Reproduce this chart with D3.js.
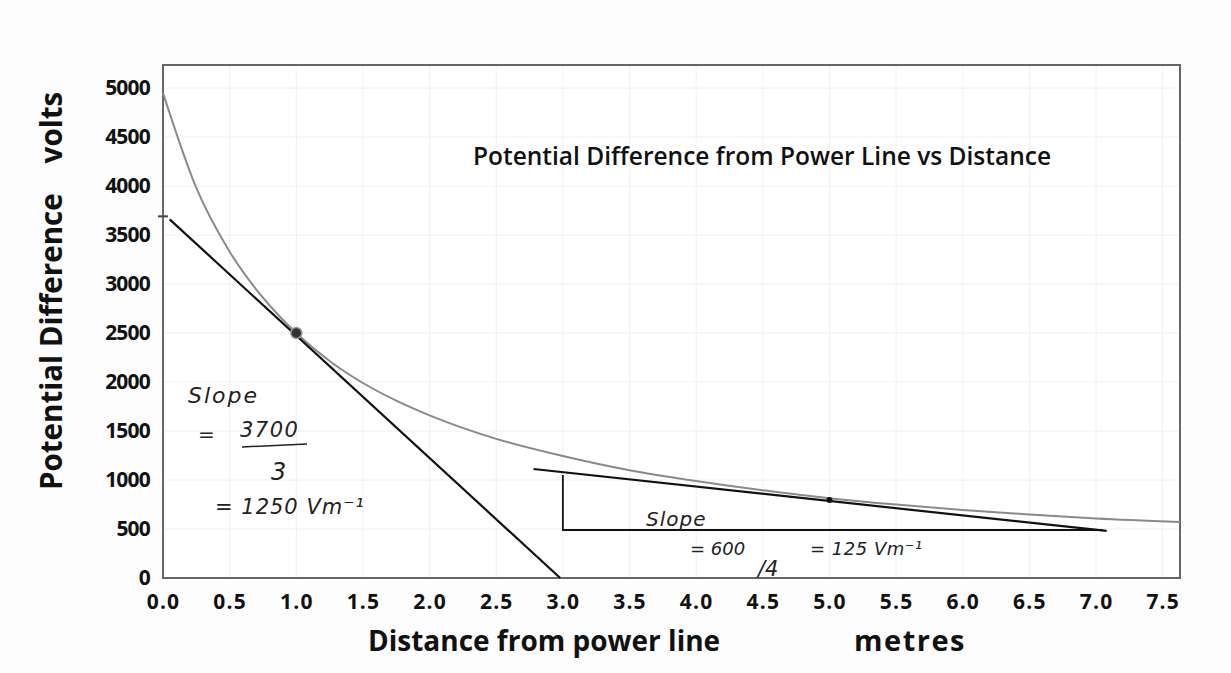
<!DOCTYPE html>
<html>
<head>
<meta charset="utf-8">
<script src="https://cdn.jsdelivr.net/npm/d3@7"></script>
<style>
  html, body { margin: 0; padding: 0; background: #fdfdfd; }
  svg { display: block; }
</style>
</head>
<body>
<svg id="chart" width="1231" height="673"></svg>
<script>
// ---- data ----
const distance  = [0, 0.25, 0.5, 0.75, 1.0, 1.25, 1.5, 1.75, 2.0, 2.5, 3.0, 3.5, 4.0, 4.5, 5.0, 5.5, 6.0, 6.5, 7.0, 7.63];
const potential = [4950, 3980, 3330, 2860, 2500, 2215, 1990, 1810, 1660, 1420, 1245, 1100, 990, 895, 815, 750, 695, 648, 607, 571];

const tangent1X = [0.05, 2.98];
const tangent1Y = [3660, 0];
const tangent2X = [2.78, 7.08];
const tangent2Y = [1112, 480];

const triangleX = [3.0, 3.0, 7.05];
const triangleY = [1051, 490, 490];

const markedX = [1.0, 5.0];
const markedY = [2500, 795];

const xTicks = [0, 0.5, 1, 1.5, 2, 2.5, 3, 3.5, 4, 4.5, 5, 5.5, 6, 6.5, 7, 7.5];
const yTicks = [0, 500, 1000, 1500, 2000, 2500, 3000, 3500, 4000, 4500, 5000];

const titleText = "Potential Difference from Power Line vs Distance";
const xTitleA = "Distance from power line";
const xTitleB = "metres";
const yTitleA = "Potential Difference";
const yTitleB = "volts";

// ---- drawing ----
const svg = d3.select("#chart");
const L = 163, R = 1180, T = 65, B = 578;
const x = d3.scaleLinear().domain([0, 7.63]).range([L, R]);
const y = d3.scaleLinear().domain([0, 5235]).range([B, T]);

const font = "'Open Sans', 'DejaVu Sans', sans-serif";
const hand = "'DejaVu Sans', sans-serif";

// plot background
svg.append("rect").attr("x", L).attr("y", T).attr("width", R - L).attr("height", B - T)
   .attr("fill", "#ffffff");

// faint gridlines
const grid = svg.append("g");
grid.selectAll("line.v").data(xTicks.filter(d => d > 0)).join("line")
  .attr("x1", d => x(d)).attr("x2", d => x(d)).attr("y1", T).attr("y2", B)
  .attr("stroke", "#f0f0f0").attr("stroke-width", 1);
grid.selectAll("line.h").data(yTicks.filter(d => d > 0)).join("line")
  .attr("x1", L).attr("x2", R).attr("y1", d => y(d)).attr("y2", d => y(d))
  .attr("stroke", "#f0f0f0").attr("stroke-width", 1);

// axes (labels only)
const xAxis = svg.append("g").attr("transform", `translate(0,${B})`)
  .call(d3.axisBottom(x).tickValues(xTicks).tickFormat(d3.format(".1f")).tickSize(0).tickPadding(16));
xAxis.select(".domain").remove();
xAxis.selectAll("text").attr("font-family", font).attr("font-weight", "bold")
  .attr("font-size", 21).attr("letter-spacing", 1.2).attr("fill", "#111");

const yAxis = svg.append("g").attr("transform", `translate(${L},0)`)
  .call(d3.axisLeft(y).tickValues(yTicks).tickFormat(d3.format("d")).tickSize(0).tickPadding(13));
yAxis.select(".domain").remove();
yAxis.selectAll("text").attr("font-family", font).attr("font-weight", "bold")
  .attr("font-size", 21).attr("letter-spacing", -0.8).attr("fill", "#111");

// frame
svg.append("rect").attr("x", L).attr("y", T).attr("width", R - L).attr("height", B - T)
   .attr("fill", "none").attr("stroke", "#666").attr("stroke-width", 2);

// curve
const pts = distance.map((d, i) => [d, potential[i]]);
svg.append("path").datum(pts)
  .attr("d", d3.line().x(d => x(d[0])).y(d => y(d[1])).curve(d3.curveMonotoneX))
  .attr("fill", "none").attr("stroke", "#8a8a8a").attr("stroke-width", 2);

// tangent lines
const straight = d3.line().x(d => x(d[0])).y(d => y(d[1]));
svg.append("path").datum(tangent1X.map((d, i) => [d, tangent1Y[i]]))
  .attr("d", straight).attr("fill", "none").attr("stroke", "#111").attr("stroke-width", 2.2);
svg.append("path").datum(tangent2X.map((d, i) => [d, tangent2Y[i]]))
  .attr("d", straight).attr("fill", "none").attr("stroke", "#111").attr("stroke-width", 2.2);
svg.append("path").datum(triangleX.map((d, i) => [d, triangleY[i]]))
  .attr("d", straight).attr("fill", "none").attr("stroke", "#111").attr("stroke-width", 1.8);

// small dash on y axis at the intercept
svg.append("line").attr("x1", L - 5).attr("x2", L + 5)
  .attr("y1", y(tangent1Y[0]) - 3).attr("y2", y(tangent1Y[0]) - 3)
  .attr("stroke", "#444").attr("stroke-width", 2);

// marked points
svg.append("circle").attr("cx", x(markedX[0])).attr("cy", y(markedY[0])).attr("r", 5.5)
  .attr("fill", "#333").attr("stroke", "#999").attr("stroke-width", 1.5);
svg.append("circle").attr("cx", x(markedX[1])).attr("cy", y(markedY[1])).attr("r", 3)
  .attr("fill", "#111");

// title
svg.append("text").attr("x", 762).attr("y", 165).attr("text-anchor", "middle")
  .attr("font-family", font).attr("font-size", 24.5).attr("font-weight", 600).attr("fill", "#111")
  .text(titleText);

// axis titles
svg.append("text").attr("x", 368).attr("y", 651)
  .attr("font-family", font).attr("font-size", 28).attr("font-weight", "bold").attr("fill", "#111")
  .text(xTitleA);
svg.append("text").attr("x", 910).attr("y", 651).attr("text-anchor", "middle")
  .attr("font-family", font).attr("font-size", 29).attr("font-weight", "bold").attr("fill", "#111")
  .attr("letter-spacing", 1.5)
  .text(xTitleB);

const yt = svg.append("text").attr("transform", "translate(62,490) rotate(-90)")
  .attr("font-family", font).attr("font-size", 29.5).attr("font-weight", "bold").attr("fill", "#111");
yt.append("tspan").text(yTitleA);
yt.append("tspan").attr("dx", 30).text(yTitleB);

// handwritten-style annotations
const ann = svg.append("g").attr("font-family", hand).attr("fill", "#222")
  .attr("font-style", "italic").attr("font-weight", 300);
ann.append("text").attr("x", 188).attr("y", 403).attr("font-size", 22).attr("letter-spacing", 2).text("Slope");
ann.append("text").attr("x", 198).attr("y", 441).attr("font-size", 20).text("=");
ann.append("text").attr("x", 240).attr("y", 437).attr("font-size", 21).attr("letter-spacing", 1.5).text("3700");
ann.append("line").attr("x1", 242).attr("x2", 307).attr("y1", 447).attr("y2", 444)
  .attr("stroke", "#222").attr("stroke-width", 1.5);
ann.append("text").attr("x", 271).attr("y", 480).attr("font-size", 24).text("3");
ann.append("text").attr("x", 215).attr("y", 514).attr("font-size", 21).attr("letter-spacing", 1).text("= 1250 Vm⁻¹");

ann.append("text").attr("x", 646).attr("y", 526).attr("font-size", 20).attr("letter-spacing", 1).text("Slope");
ann.append("text").attr("x", 690).attr("y", 555).attr("font-size", 18).text("= 600");
ann.append("text").attr("x", 758).attr("y", 576).attr("font-size", 21).text("/4");
ann.append("text").attr("x", 810).attr("y", 555).attr("font-size", 18).attr("letter-spacing", 0.5).text("= 125 Vm⁻¹");
</script>
</body>
</html>
